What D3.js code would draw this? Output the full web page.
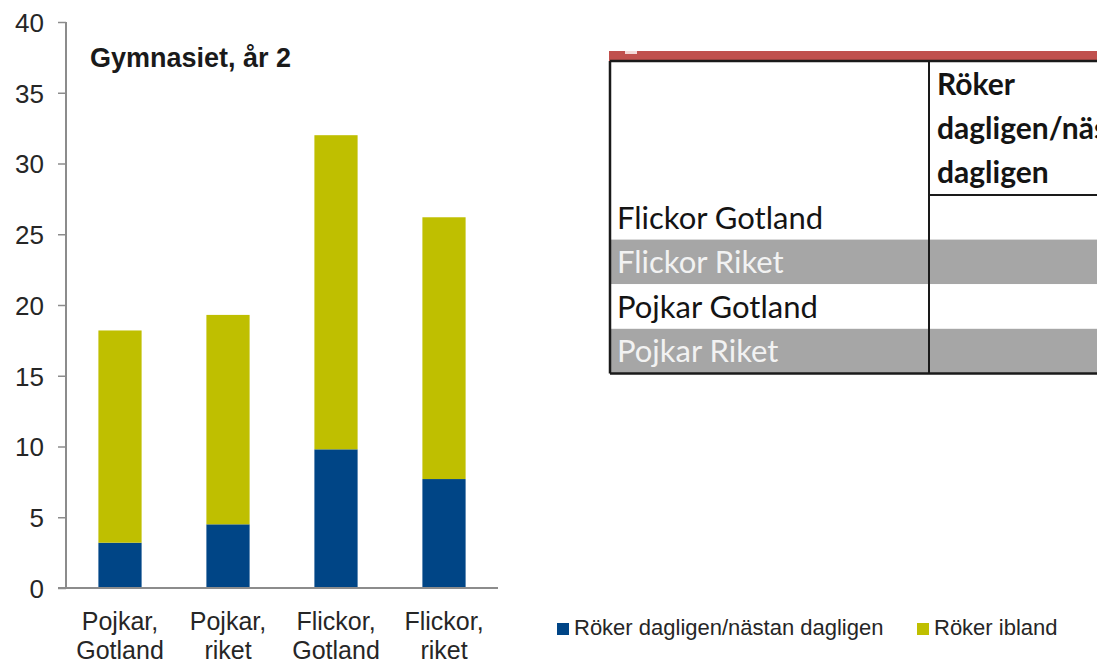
<!DOCTYPE html>
<html>
<head>
<meta charset="utf-8">
<script src="https://cdn.jsdelivr.net/npm/d3@7"></script>
<style>
  html, body { margin: 0; padding: 0; background: #fff; }
  svg { display: block; }
</style>
</head>
<body>
<svg id="chart" width="1097" height="665"></svg>
<script>
// ---- data ----
const categories = [["Pojkar,", "Gotland"], ["Pojkar,", "riket"], ["Flickor,", "Gotland"], ["Flickor,", "riket"]];
const seriesNames = ["Röker dagligen/nästan dagligen", "Röker ibland"];
const dagligen = [3.2, 4.5, 9.8, 7.7];
const ibland = [15.0, 14.8, 22.2, 18.5];
const yTicks = [0, 5, 10, 15, 20, 25, 30, 35, 40];
const chartTitle = "Gymnasiet, år 2";
const tableRows = ["Flickor Gotland", "Flickor Riket", "Pojkar Gotland", "Pojkar Riket"];
const tableHeader = ["Röker", "dagligen/nästan", "dagligen"];

const colors = ["#004586", "#BFBF00"];

const svg = d3.select("#chart");
const W = 1097, H = 665;

// ---- scales ----
const x = d3.scaleBand()
  .domain(d3.range(categories.length))
  .range([66, 498])
  .paddingInner(0.6)
  .paddingOuter(0.3);
const y = d3.scaleLinear().domain([0, 40]).range([588, 22]);

// stacked data
const stackInput = categories.map((c, i) => ({ i, a: dagligen[i], b: ibland[i] }));
const stacked = d3.stack().keys(["a", "b"])(stackInput);

// ---- bars ----
svg.append("g").selectAll("g")
  .data(stacked)
  .join("g")
  .attr("fill", (d, k) => colors[k])
  .selectAll("rect")
  .data(d => d)
  .join("rect")
  .attr("x", d => x(d.data.i))
  .attr("width", x.bandwidth())
  .attr("y", d => y(d[1]))
  .attr("height", d => y(d[0]) - y(d[1]));

// ---- y axis ----
const yAxis = d3.axisLeft(y).tickValues(yTicks).tickSize(8).tickPadding(14).tickFormat(d3.format("d"));
const gy = svg.append("g").attr("transform", "translate(66,0)").call(yAxis);
gy.select(".domain").attr("stroke", "#8c8c8c").attr("stroke-width", 2)
  .attr("d", `M0,${y(40)}V${y(0)}`);
gy.selectAll(".tick line").attr("stroke", "#8c8c8c").attr("stroke-width", 1.5);
gy.selectAll(".tick text")
  .attr("font-family", "Liberation Sans, Arial, sans-serif")
  .attr("font-size", 26)
  .attr("fill", "#262626")
  .attr("dy", "0.36em");

// x axis line
svg.append("line")
  .attr("x1", 58).attr("x2", 498)
  .attr("y1", y(0)).attr("y2", y(0))
  .attr("stroke", "#8c8c8c").attr("stroke-width", 2);

// ---- category labels ----
const catG = svg.append("g")
  .attr("font-family", "Liberation Sans, Arial, sans-serif")
  .attr("font-size", 25)
  .attr("fill", "#262626")
  .attr("text-anchor", "middle");
categories.forEach((c, i) => {
  const cx = x(i) + x.bandwidth() / 2;
  c.forEach((line, j) => {
    catG.append("text").attr("x", cx).attr("y", 630 + j * 29).text(line);
  });
});

// ---- title ----
svg.append("text")
  .attr("x", 90).attr("y", 67)
  .attr("font-family", "Liberation Sans, Arial, sans-serif")
  .attr("font-weight", "bold")
  .attr("font-size", 27)
  .attr("fill", "#1a1a1a")
  .text(chartTitle);

// ---- legend ----
const legend = svg.append("g")
  .attr("font-family", "Liberation Sans, Arial, sans-serif")
  .attr("font-size", 22)
  .attr("fill", "#262626");
const legX = [557, 917];
seriesNames.forEach((n, k) => {
  legend.append("rect").attr("x", legX[k]).attr("y", 623).attr("width", 12).attr("height", 12).attr("fill", colors[k]);
  legend.append("text").attr("x", legX[k] + 17).attr("y", 635).text(n);
});

// ---- table ----
const tbl = svg.append("g");
const tL = 610, tColX = 929, tTop = 61, tHeadBottom = 195, rowH = 44.6;
const rowY = d3.scaleBand().domain(d3.range(tableRows.length)).range([tHeadBottom, tHeadBottom + rowH * tableRows.length]);
// red band
tbl.append("rect").attr("x", tL - 1).attr("y", 51).attr("width", W - tL + 1).attr("height", 10).attr("fill", "#C0504D");
tbl.append("rect").attr("x", 625).attr("y", 51).attr("width", 12).attr("height", 3).attr("fill", "#f3d9d8");
// row backgrounds
tbl.selectAll("rect.row")
  .data(tableRows)
  .join("rect")
  .attr("class", "row")
  .attr("x", tL)
  .attr("y", (d, i) => rowY(i))
  .attr("width", W - tL)
  .attr("height", rowY.bandwidth())
  .attr("fill", (d, i) => i % 2 === 1 ? "#A6A6A6" : "#ffffff");
// borders
const bottom = rowY(tableRows.length - 1) + rowY.bandwidth();
tbl.append("line").attr("x1", tL).attr("x2", W).attr("y1", tTop).attr("y2", tTop).attr("stroke", "#1a1a1a").attr("stroke-width", 2.5);
tbl.append("line").attr("x1", tL).attr("x2", tL).attr("y1", tTop).attr("y2", bottom).attr("stroke", "#1a1a1a").attr("stroke-width", 2.5);
tbl.append("line").attr("x1", tL).attr("x2", W).attr("y1", bottom).attr("y2", bottom).attr("stroke", "#1a1a1a").attr("stroke-width", 2.5);
tbl.append("line").attr("x1", tColX).attr("x2", tColX).attr("y1", tTop).attr("y2", bottom).attr("stroke", "#1a1a1a").attr("stroke-width", 2);
tbl.append("line").attr("x1", tColX).attr("x2", W).attr("y1", tHeadBottom).attr("y2", tHeadBottom).attr("stroke", "#1a1a1a").attr("stroke-width", 2);
// row labels
tbl.selectAll("text.rl")
  .data(tableRows)
  .join("text")
  .attr("class", "rl")
  .attr("x", 617)
  .attr("y", (d, i) => rowY(i) + rowY.bandwidth() - 11)
  .attr("font-family", "Lato, 'Open Sans', sans-serif")
  .attr("font-size", 31)
  .attr("fill", (d, i) => i % 2 === 1 ? "#f2f2f2" : "#141414")
  .text(d => d);
// header (clipped by the right edge like the reference)
const clip = svg.append("clipPath").attr("id", "tclip");
clip.append("rect").attr("x", 0).attr("y", 0).attr("width", W).attr("height", H);
tbl.selectAll("text.hd")
  .data(tableHeader)
  .join("text")
  .attr("class", "hd")
  .attr("x", 937)
  .attr("y", (d, i) => 95 + i * 44)
  .attr("font-family", "Lato, 'Open Sans', sans-serif")
  .attr("font-weight", "bold")
  .attr("font-size", 30)
  .attr("fill", "#141414")
  .attr("clip-path", "url(#tclip)")
  .text(d => d);
</script>
</body>
</html>
